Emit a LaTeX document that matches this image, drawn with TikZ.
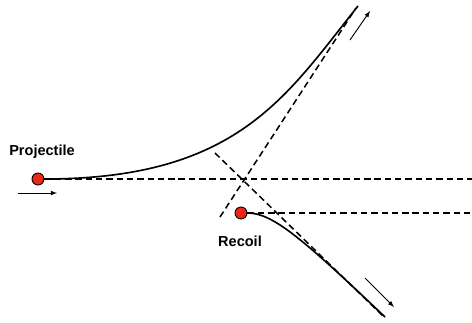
\documentclass[tikz,border=0pt]{standalone}
\usepackage{xcolor}
\usepackage{fontspec}
\setmainfont{Liberation Sans}
\definecolor{dotred}{RGB}{235,40,20}
\tikzset{
  particle/.style={circle, draw=black, line width=0.8pt, fill=dotred, inner sep=0pt, minimum size=0.36cm},
  guide/.style={line width=1.3pt, dash pattern=on 5.5pt off 3.3pt},
  track/.style={line width=1.4pt},
  partname/.style={font=\fontsize{12.4}{14}\selectfont\bfseries, inner sep=0pt}
}
\begin{document}
\begin{tikzpicture}[x=0.03cm, y=-0.03cm]
	\useasboundingbox (0,0) rectangle (472,322);
	% Particles
	\node[particle] (projectile) at (38,179) {};
	\node[particle] (recoil) at (241,213) {};
	% Far ends
	\coordinate (projfar) at (472,179);
	\coordinate (recfar) at (472,213);
	\coordinate (projend) at (358,6);
	\coordinate (recend) at (385,317);
	% Horizontal dashed lines
	\draw[guide] (projectile) -- (projfar);
	\draw[guide] (recoil) -- (recfar);
	% Asymptotes
	\draw[guide] (220,217) -- (356,8);
	\draw[guide] (215,153) -- (384,317);
	% Trajectory of the projectile
	\draw[track] (projectile) .. controls (238,179) and (286,96) .. (projend);
	% Trajectory of the recoil
	\draw[track] (recoil) .. controls (272,213) and (300,236) .. (recend);
	% Direction arrows
	\draw[->, >=latex, line width=0.8pt] (18,193) -- (57,193);
	\draw[->, >=latex, line width=0.8pt] (350,40) -- (370,11);
	\draw[->, >=latex, line width=0.8pt] (365,278) -- (394,307);
	% Labels
	\node[partname] (projlabel) at (42,152) {Projectile};
	\node[partname] (reclabel) at (240,241) {Recoil};
\end{tikzpicture}
\end{document}
